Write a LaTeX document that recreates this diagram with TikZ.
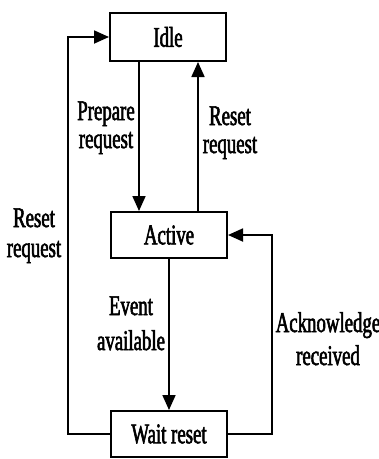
\documentclass[tikz,border=0pt]{standalone}
\usepackage{fontspec}
\setmainfont{Liberation Serif}[FakeStretch=0.66,FakeBold=2]
\usetikzlibrary{arrows.meta}
\begin{document}
\begin{tikzpicture}[x=1pt,y=-1pt,
  state/.style={draw,line width=2pt,minimum width=116pt,inner sep=0pt,font=\fontsize{28.5pt}{30pt}\selectfont},
  conn/.style={line width=1.8pt},
  arr/.style={conn,-{Triangle[length=15pt,width=13pt]}},
  lab/.style={align=center,inner sep=0pt,anchor=base}]
\useasboundingbox (0,0) rectangle (379,459);
\node[state,minimum height=48pt] (idle) at (168,37) {Idle};
\node[state,minimum height=46pt] (active) at (169,235) {Active};
\node[state,minimum height=46pt] (wait) at (169,434) {Wait reset};
\coordinate (l1) at (68,434);
\coordinate (l2) at (68,37);
\coordinate (r1) at (272,434);
\coordinate (r2) at (272,235);
\draw[arr] (wait.west) -- (l1) -- (l2) -- (idle.west);
\draw[arr] ([xshift=-29pt]idle.south) -- ([xshift=-30pt]active.north);
\draw[arr] ([xshift=29pt]active.north) -- ([xshift=30pt]idle.south);
\draw[arr] (active.south) -- (wait.north);
\draw[arr] (wait.east) -- (r1) -- (r2) -- (active.east);
\node[lab,font=\fontsize{28.5pt}{28pt}\selectfont] (lprep) at (106,148) {Prepare\\request};
\node[lab,font=\fontsize{28.5pt}{28pt}\selectfont] (lreset1) at (230,153) {Reset\\request};
\node[lab,font=\fontsize{28.5pt}{30pt}\selectfont] (lreset2) at (34,257) {Reset\\request};
\node[lab,font=\fontsize{28.5pt}{35pt}\selectfont] (levent) at (131,350) {Event\\available};
\node[lab,font=\fontsize{28.5pt}{33pt}\selectfont] (lack) at (328,365) {Acknowledge\\received};
\end{tikzpicture}
\end{document}
